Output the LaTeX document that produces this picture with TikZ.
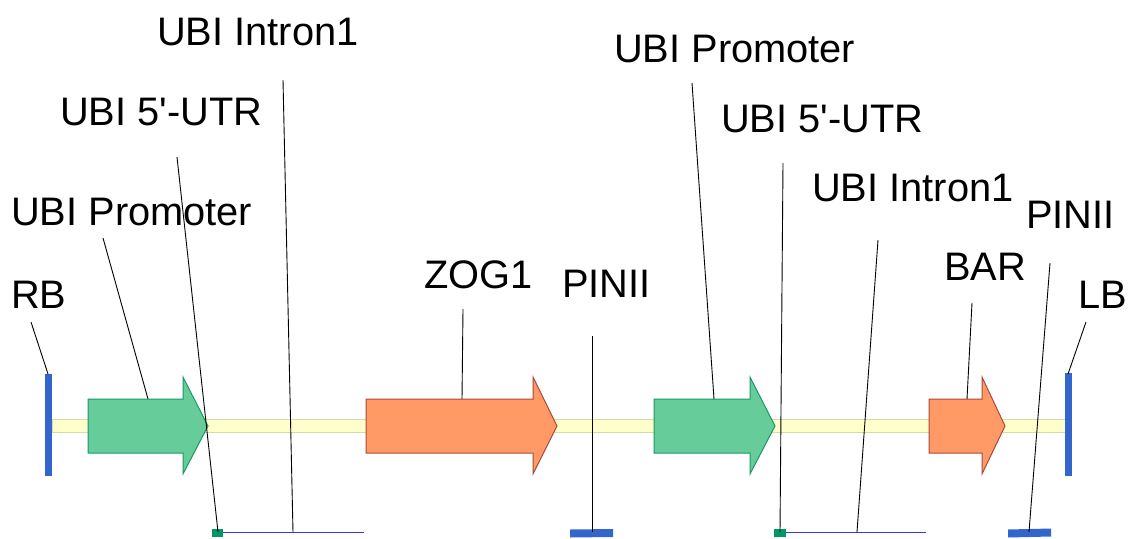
\documentclass[tikz,border=0pt]{standalone}
\usepackage{fontspec}
\newfontfamily\lbf{Liberation Sans}
\definecolor{bbfill}{HTML}{FFFFCC}
\definecolor{bbdraw}{HTML}{D8D8A8}
\definecolor{grfill}{HTML}{66CC99}
\definecolor{grdraw}{HTML}{1A9966}
\definecolor{orfill}{HTML}{FF9966}
\definecolor{ordraw}{HTML}{A94A3A}
\definecolor{bdblue}{HTML}{3366CC}
\definecolor{sqgreen}{HTML}{009966}
\definecolor{lnblue}{HTML}{3333FF}
\begin{document}
\begin{tikzpicture}[x=1pt,y=-1pt,
  lbl/.style={font=\lbf\fontsize{39.8}{44}\selectfont, inner sep=0pt, anchor=base west},
  leader/.style={draw=black, line width=0.9pt},
  backbone/.style={fill=bbfill, draw=bbdraw, line width=0.8pt},
  border/.style={fill=bdblue, draw=none},
  promarrow/.style={fill=grfill, draw=grdraw, line width=1pt, line join=miter},
  cdsarrow/.style={fill=orfill, draw=ordraw, line width=1pt, line join=miter},
  utrbox/.style={fill=sqgreen, draw=none},
  intronline/.style={draw=lnblue, line width=1.4pt},
  termbar/.style={fill=bdblue, draw=none}]
\useasboundingbox (0,0) rectangle (1132,538);

% backbone
\path[backbone] (52,419) rectangle (1066,432);

% borders
\path[border] (45,374) rectangle (52,476);
\path[border] (1065,373) rectangle (1072,476);

% gene arrows
\path[promarrow] (88,399) -- (183,399) -- (183,377) -- (208,426) -- (183,474) -- (183,453) -- (88,453) -- cycle;
\path[cdsarrow] (366,399) -- (533,399) -- (533,377) -- (557,426) -- (533,474) -- (533,453) -- (366,453) -- cycle;
\path[promarrow] (654,399) -- (750,399) -- (750,377) -- (775,426) -- (750,474) -- (750,453) -- (654,453) -- cycle;
\path[cdsarrow] (929,399) -- (982,399) -- (982,377) -- (1005,426) -- (982,474) -- (982,453) -- (929,453) -- cycle;

% UTR boxes and introns
\path[utrbox] (212,529) rectangle (223,537);
\path[utrbox] (774,529) rectangle (786,537);
\draw[intronline] (223,532.5) -- (364,532.5);
\draw[intronline] (786,532.5) -- (926,532.5);

% terminators
\path[termbar] (570,529.5) -- (613,529) -- (613,537) -- (570,537.5) -- cycle;
\path[termbar] (1008,529.5) -- (1051,528.5) -- (1051,536.5) -- (1008,537.5) -- cycle;

% labels
\node[lbl] (lRB) at (11,308) {RB};
\node[lbl] (lP1) at (11,225) {UBI Promoter};
\node[lbl] (lU1) at (60,125) {UBI 5'-UTR};
\node[lbl] (lI1) at (157,45) {UBI Intron1};
\node[lbl] (lZ)  at (424,288) {ZOG1};
\node[lbl] (lT1) at (562,297) {PINII};
\node[lbl] (lP2) at (614,62) {UBI Promoter};
\node[lbl] (lU2) at (721,132) {UBI 5'-UTR};
\node[lbl] (lI2) at (812,201) {UBI Intron1};
\node[lbl] (lB)  at (944,280) {BAR};
\node[lbl] (lT2) at (1026,228) {PINII};
\node[lbl] (lLB) at (1078,308) {LB};

% leader line ends
\coordinate (sRB) at (31,322);   \coordinate (eRB) at (48,374);
\coordinate (sP1) at (103,238);  \coordinate (eP1) at (148,399);
\coordinate (sU1) at (177,157);  \coordinate (eU1) at (218,532);
\coordinate (sI1) at (283,80);   \coordinate (eI1) at (293,532);
\coordinate (sZ)  at (463,309);  \coordinate (eZ)  at (462,399);
\coordinate (sT1) at (592,336);  \coordinate (eT1) at (592,532);
\coordinate (sP2) at (692,83);   \coordinate (eP2) at (714,399);
\coordinate (sU2) at (783,163);  \coordinate (eU2) at (780,532);
\coordinate (sI2) at (878,240);  \coordinate (eI2) at (857,532);
\coordinate (sB)  at (972,303);  \coordinate (eB)  at (967,399);
\coordinate (sT2) at (1050,263); \coordinate (eT2) at (1029,532);
\coordinate (sLB) at (1086,322); \coordinate (eLB) at (1068,374);

\foreach \n in {RB,P1,U1,I1,Z,T1,P2,U2,I2,B,T2,LB}
  \draw[leader] (s\n) -- (e\n);
\end{tikzpicture}
\end{document}
